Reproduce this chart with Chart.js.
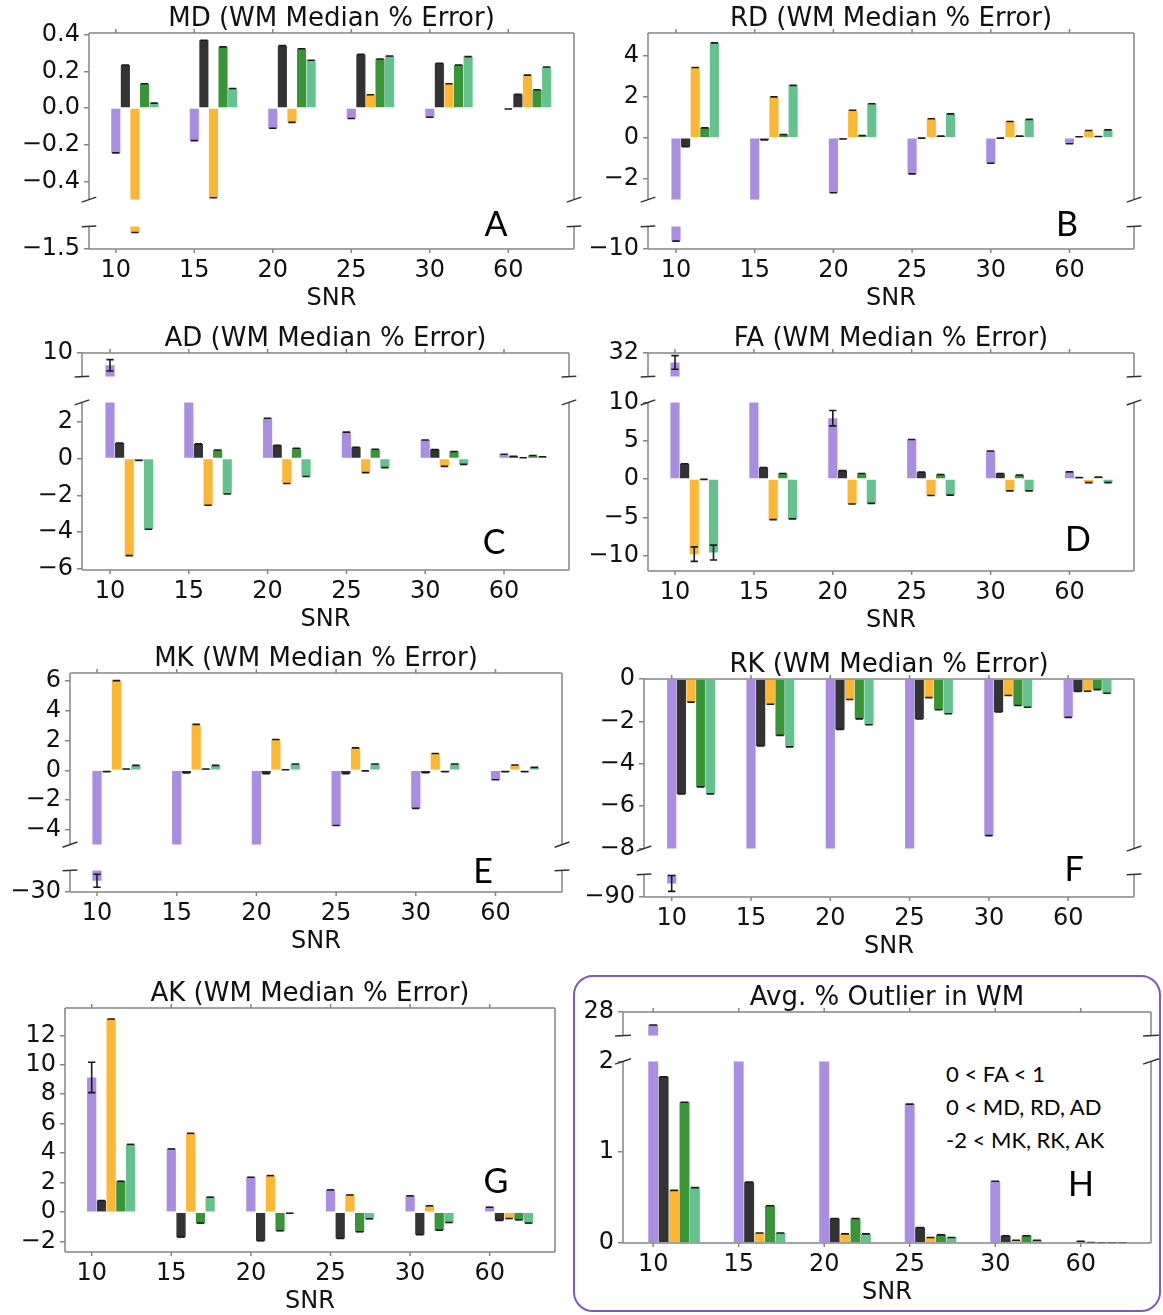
<!DOCTYPE html>
<html lang="en">
<head>
<meta charset="UTF-8">
<meta name="viewport" content="width=device-width, initial-scale=1.0">
<title>WM Median % Error by SNR</title>
<script src="https://cdn.jsdelivr.net/npm/chart.js"></script>
<style>
    body { margin: 0; background: #fff; }
    #page { position: relative; width: 1163px; height: 1315px; overflow: hidden; }
    #page canvas { position: absolute; }
    .letter {
        position: absolute;
        font-family: Lato, 'Open Sans', sans-serif;
        font-size: 34px;
        line-height: 1;
        color: #000;
        transform: translate(-50%, -50%);
    }
    /* rounded purple frame around panel H */
    #outlierBox {
        position: absolute;
        left: 573px; top: 975px;
        width: 584px; height: 333px;
        border: 2px solid #7d5bbf;
        border-radius: 20px;
    }
    #outlierNote {
        position: absolute;
        left: 946px; top: 1057px;
        font-family: Lato, 'Open Sans', sans-serif;
        font-size: 22px;
        line-height: 33px;
        color: #000;
    }
</style>
</head>
<body>
<div id="page">
    <div id="outlierBox"></div>
    <div id="outlierNote">0 &lt; FA &lt; 1<br>0 &lt; MD, RD, AD<br>-2 &lt; MK, RK, AK</div>
</div>
<script>
    // ---------- data ----------
    const snr = ['10', '15', '20', '25', '30', '60'];
    const seriesNames = ['Series 1', 'Series 2', 'Series 3', 'Series 4', 'Series 5'];
    const seriesColors = ['rgba(147,112,219,0.8)', 'rgba(0,0,0,0.8)', 'rgba(255,165,0,0.8)', 'rgba(34,139,34,0.9)', 'rgba(60,179,113,0.8)'];

    // one row per series (purple, black, orange, green, light green), one column per SNR
    const mdValues = [
        [-0.245, -0.178, -0.11, -0.057, -0.05, -0.005],
        [0.235, 0.37, 0.341, 0.293, 0.245, 0.075],
        [-1.28, -0.49, -0.078, 0.073, 0.133, 0.18],
        [0.133, 0.334, 0.324, 0.268, 0.235, 0.1],
        [0.027, 0.107, 0.261, 0.284, 0.281, 0.224]
    ];
    const mdTicks = [[-0.4, -0.2, 0, 0.2, 0.4], [-1.5]];

    const rdValues = [
        [-8.6, -3.3, -2.67, -1.75, -1.24, -0.29],
        [-0.44, -0.11, -0.06, -0.02, -0.02, 0.05],
        [3.41, 1.98, 1.33, 0.92, 0.79, 0.35],
        [0.48, 0.16, 0.11, 0.08, 0.08, 0.06],
        [4.6, 2.54, 1.65, 1.16, 0.89, 0.38]
    ];
    const rdTicks = [[-2, 0, 2, 4], [-10]];

    const adValues = [
        [7.4, 4.0, 2.18, 1.43, 1.0, 0.23],
        [0.84, 0.79, 0.71, 0.61, 0.48, 0.12],
        [-5.27, -2.54, -1.36, -0.77, -0.43, 0.04],
        [-0.11, 0.46, 0.55, 0.5, 0.38, 0.16],
        [-3.84, -1.93, -0.98, -0.5, -0.32, 0.09]
    ];
    const adErrors = [
        [1.2, 0, 0, 0, 0, 0],
        [0, 0, 0, 0, 0, 0],
        [0, 0, 0, 0, 0, 0],
        [0, 0, 0, 0, 0, 0],
        [0, 0, 0, 0, 0, 0]
    ];
    const adTicks = [[10], [-6, -4, -2, 0, 2]];

    const faValues = [
        [30.4, 14, 7.94, 5.15, 3.65, 0.94],
        [2.0, 1.5, 1.1, 0.9, 0.73, 0.21],
        [-9.8, -5.3, -3.26, -2.15, -1.55, -0.47],
        [-0.05, 0.73, 0.73, 0.6, 0.52, 0.26],
        [-9.6, -5.2, -3.18, -2.1, -1.55, -0.47]
    ];
    const faErrors = [
        [1.15, 0, 1.0, 0, 0, 0],
        [0, 0, 0, 0, 0, 0],
        [0.95, 0, 0, 0, 0, 0],
        [0, 0, 0, 0, 0, 0],
        [0.97, 0, 0, 0, 0, 0]
    ];
    const faTicks = [[32], [-10, -5, 0, 5, 10]];

    const mkValues = [
        [-27.4, -8, -6, -3.71, -2.56, -0.64],
        [-0.09, -0.18, -0.22, -0.22, -0.16, -0.09],
        [6.04, 3.09, 2.07, 1.51, 1.13, 0.36],
        [0.09, 0.09, 0.04, -0.04, -0.09, -0.09],
        [0.33, 0.33, 0.42, 0.42, 0.42, 0.2]
    ];
    const mkErrors = [
        [1.5, 0, 0, 0, 0, 0],
        [0, 0, 0, 0, 0, 0],
        [0, 0, 0, 0, 0, 0],
        [0, 0, 0, 0, 0, 0],
        [0, 0, 0, 0, 0, 0]
    ];
    const mkTicks = [[-4, -2, 0, 2, 4, 6], [-30]];

    const rkValues = [
        [-86.4, -10, -9, -8.5, -7.39, -1.81],
        [-5.42, -3.16, -2.38, -1.89, -1.56, -0.59],
        [-1.09, -1.19, -0.97, -0.88, -0.78, -0.58],
        [-5.09, -2.66, -1.88, -1.45, -1.25, -0.5],
        [-5.42, -3.2, -2.16, -1.64, -1.33, -0.67]
    ];
    const rkErrors = [
        [2.1, 0, 0, 0, 0, 0],
        [0, 0, 0, 0, 0, 0],
        [0, 0, 0, 0, 0, 0],
        [0, 0, 0, 0, 0, 0],
        [0, 0, 0, 0, 0, 0]
    ];
    const rkTicks = [[-8, -6, -4, -2, 0], [-90]];

    const akValues = [
        [9.14, 4.29, 2.37, 1.51, 1.11, 0.34],
        [0.79, -1.69, -1.94, -1.78, -1.53, -0.56],
        [13.1, 5.35, 2.48, 1.17, 0.43, -0.43],
        [2.1, -0.74, -1.26, -1.33, -1.22, -0.52],
        [4.6, 1.02, -0.07, -0.45, -0.7, -0.74]
    ];
    const akErrors = [
        [1.03, 0, 0, 0, 0, 0],
        [0, 0, 0, 0, 0, 0],
        [0, 0, 0, 0, 0, 0],
        [0, 0, 0, 0, 0, 0],
        [0, 0, 0, 0, 0, 0]
    ];
    const akTicks = [[-2, 0, 2, 4, 6, 8, 10, 12]];

    const outlierValues = [
        [26.9, 5, 4, 1.53, 0.68, 0.02],
        [1.83, 0.67, 0.27, 0.17, 0.08, 0.005],
        [0.58, 0.11, 0.1, 0.06, 0.03, 0.003],
        [1.55, 0.41, 0.27, 0.09, 0.08, 0.003],
        [0.61, 0.11, 0.1, 0.06, 0.03, 0.003]
    ];
    const outlierTicks = [[28], [0, 1, 2]];

    // ---------- layout (pixel frames of each panel, axis limits of each segment) ----------
    const panels = [
        { title: 'MD (WM Median % Error)', letter: 'A', letterPos: [496, 223], values: mdValues, errors: null, ticks: mdTicks, decimals: 1,
          left: 89, right: 574, tick0: 115.8, step: 78.5,
          segs: [{ top: 33, bottom: 202, min: -0.5, max: 0.41 }, { top: 224, bottom: 249, min: -1.5, max: -1.2 }] },
        { title: 'RD (WM Median % Error)', letter: 'B', letterPos: [1067, 223], values: rdValues, errors: null, ticks: rdTicks, decimals: 0,
          left: 648, right: 1134, tick0: 676, step: 78.7,
          segs: [{ top: 33, bottom: 202, min: -3, max: 5.08 }, { top: 224, bottom: 249, min: -10, max: -6 }] },
        { title: 'AD (WM Median % Error)', letter: 'C', letterPos: [494, 541], values: adValues, errors: adErrors, ticks: adTicks, decimals: 0,
          left: 82, right: 569, tick0: 110, step: 78.8,
          segs: [{ top: 353, bottom: 379, min: 5, max: 10 }, { top: 400, bottom: 570, min: -6.05, max: 3.04 }] },
        { title: 'FA (WM Median % Error)', letter: 'D', letterPos: [1078, 538], values: faValues, errors: faErrors, ticks: faTicks, decimals: 0,
          left: 648, right: 1134, tick0: 675, step: 78.9,
          segs: [{ top: 353, bottom: 379, min: 28, max: 32 }, { top: 400, bottom: 571, min: -12, max: 10 }] },
        { title: 'MK (WM Median % Error)', letter: 'E', letterPos: [483, 870], values: mkValues, errors: mkErrors, ticks: mkTicks, decimals: 0,
          left: 70, right: 562, tick0: 97, step: 79.7,
          segs: [{ top: 673, bottom: 847, min: -5, max: 6.55 }, { top: 868, bottom: 892, min: -30, max: -25 }] },
        { title: 'RK (WM Median % Error)', letter: 'F', letterPos: [1074, 868], values: rkValues, errors: rkErrors, ticks: rkTicks, decimals: 0,
          left: 644, right: 1134, tick0: 671.7, step: 79.3,
          segs: [{ top: 679, bottom: 851, min: -8, max: 0 }, { top: 872, bottom: 897, min: -90, max: -84 }] },
        { title: 'AK (WM Median % Error)', letter: 'G', letterPos: [496, 1180], values: akValues, errors: akErrors, ticks: akTicks, decimals: 0,
          left: 65, right: 555, tick0: 91.7, step: 79.6,
          segs: [{ top: 1008, bottom: 1252, min: -2.7, max: 13.85 }] },
        { title: 'Avg. % Outlier in WM', letter: 'H', letterPos: [1081, 1183], values: outlierValues, errors: null, ticks: outlierTicks, decimals: 0,
          left: 623, right: 1151, tick0: 653.2, step: 85.5,
          segs: [{ top: 1012, bottom: 1038, min: 26, max: 28 }, { top: 1059, bottom: 1243, min: 0, max: 2 }] }
    ];

    const FONT = "'DejaVu Sans', sans-serif";
    const TICK_SIZE = 24;
    const TITLE_SIZE = 26;
    const TITLE_GAP = 1;
    const Y_AXIS_W = 86;
    const X_AXIS_H = 66;
    const PAD_V = 16;
    const PAD_R = 14;
    const CAT_PCT = 0.61;
    const BAR_PCT = 0.95;
    const BAR_SHIFT = 2 * CAT_PCT / 5;   // puts the first bar of each group on the tick
    const FRAME_COLOR = '#858585';

    // spines, outer x tick marks and the diagonal break marks
    const framePlugin = {
        id: 'frame',
        afterDraw(chart, args, opts) {
            const { ctx, chartArea: a } = chart;
            const xs = chart.scales.x;
            ctx.save();
            ctx.strokeStyle = FRAME_COLOR;
            ctx.lineWidth = 1.5;
            ctx.beginPath();
            ctx.moveTo(a.left, a.top); ctx.lineTo(a.left, a.bottom);
            ctx.moveTo(a.right, a.top); ctx.lineTo(a.right, a.bottom);
            if (opts.first) { ctx.moveTo(a.left, a.top); ctx.lineTo(a.right, a.top); }
            if (opts.last) { ctx.moveTo(a.left, a.bottom); ctx.lineTo(a.right, a.bottom); }
            snr.forEach((_, i) => {
                const px = xs.getPixelForValue(i);
                if (opts.first) { ctx.moveTo(px, a.top); ctx.lineTo(px, a.top - 4); }
                if (opts.last) { ctx.moveTo(px, a.bottom); ctx.lineTo(px, a.bottom + 4); }
            });
            ctx.stroke();

            const dx = 0.015 * a.width, dy = 0.015 * a.height;
            ctx.strokeStyle = '#333';
            ctx.beginPath();
            const edges = [];
            if (!opts.first) edges.push(a.top);
            if (!opts.last) edges.push(a.bottom);
            edges.forEach(y => {
                [a.left, a.right].forEach(x => {
                    ctx.moveTo(x - dx, y + dy);
                    ctx.lineTo(x + dx, y - dy);
                });
            });
            ctx.stroke();
            ctx.restore();
        }
    };

    // error bars with caps at the end of every bar
    const capsPlugin = {
        id: 'caps',
        afterDatasetsDraw(chart) {
            const { ctx, chartArea: a } = chart;
            const ys = chart.scales.y;
            ctx.save();
            ctx.beginPath();
            ctx.rect(a.left, a.top, a.width, a.height);
            ctx.clip();
            ctx.strokeStyle = '#1a1a1a';
            ctx.lineWidth = 1.6;
            chart.data.datasets.forEach((ds, d) => {
                const meta = chart.getDatasetMeta(d);
                meta.data.forEach((bar, i) => {
                    const v = ds.data[i].y;
                    const e = ds.errors ? ds.errors[i] : 0;
                    const half = bar.width * 0.4;
                    const lo = ys.getPixelForValue(v - e);
                    const hi = ys.getPixelForValue(v + e);
                    ctx.beginPath();
                    ctx.moveTo(bar.x - half, lo); ctx.lineTo(bar.x + half, lo);
                    if (e > 0) {
                        ctx.moveTo(bar.x - half, hi); ctx.lineTo(bar.x + half, hi);
                        ctx.moveTo(bar.x, lo); ctx.lineTo(bar.x, hi);
                    }
                    ctx.stroke();
                });
            });
            ctx.restore();
        }
    };

    function formatTick(value, decimals) {
        const s = Math.abs(value).toFixed(decimals);
        return value < 0 ? '\u2212' + s : s;
    }

    function makeSegment(page, p, seg, k) {
        const first = k === 0;
        const last = k === p.segs.length - 1;
        const titleH = first ? TITLE_SIZE + TITLE_GAP : 0;
        const padTop = first ? 0 : PAD_V;
        const padBottom = last ? 0 : PAD_V;
        const xh = last ? X_AXIS_H : 0;

        const canvas = document.createElement('canvas');
        const left = Math.round(p.left - Y_AXIS_W);
        const top = Math.round(seg.top - padTop - titleH);
        const width = Y_AXIS_W + Math.round(p.right - p.left) + PAD_R;
        const height = Math.round(seg.bottom - seg.top) + padTop + titleH + padBottom + xh;
        canvas.width = width;
        canvas.height = height;
        canvas.style.left = left + 'px';
        canvas.style.top = top + 'px';
        canvas.style.width = width + 'px';
        canvas.style.height = height + 'px';
        page.appendChild(canvas);

        const segTicks = p.ticks[k];

        new Chart(canvas, {
            type: 'bar',
            data: {
                datasets: p.values.map((vals, s) => ({
                    label: seriesNames[s],
                    data: vals.map((v, i) => ({ x: i + BAR_SHIFT, y: v })),
                    errors: p.errors ? p.errors[s] : null,
                    backgroundColor: seriesColors[s],
                    borderWidth: 0,
                    barPercentage: BAR_PCT,
                    categoryPercentage: CAT_PCT,
                    clip: 0
                }))
            },
            options: {
                responsive: false,
                animation: false,
                devicePixelRatio: 1,
                layout: { padding: { top: padTop, bottom: padBottom, left: 0, right: PAD_R } },
                plugins: {
                    legend: { display: false },
                    tooltip: { enabled: false },
                    title: {
                        display: first,
                        text: p.title,
                        fullSize: false,
                        color: '#111',
                        font: { family: FONT, size: TITLE_SIZE, weight: 'normal', lineHeight: 1 },
                        padding: { top: 0, bottom: TITLE_GAP }
                    },
                    frame: { first: first, last: last }
                },
                scales: {
                    x: {
                        type: 'linear',
                        offset: false,
                        display: last,
                        min: (p.left - p.tick0) / p.step,
                        max: (p.right - p.tick0) / p.step,
                        afterBuildTicks: sc => { sc.ticks = snr.map((_, i) => ({ value: i })); },
                        afterFit: sc => { sc.height = last ? X_AXIS_H : 0; },
                        ticks: {
                            autoSkip: false,
                            maxRotation: 0,
                            padding: 7,
                            color: '#111',
                            font: { family: FONT, size: TICK_SIZE },
                            callback: v => snr[v]
                        },
                        grid: { display: false, drawTicks: false },
                        border: { display: false },
                        title: {
                            display: true,
                            text: 'SNR',
                            color: '#111',
                            font: { family: FONT, size: TICK_SIZE },
                            padding: { top: 0, bottom: 2 }
                        }
                    },
                    y: {
                        min: seg.min,
                        max: seg.max,
                        afterBuildTicks: sc => { sc.ticks = segTicks.map(v => ({ value: v })); },
                        afterFit: sc => { sc.width = Y_AXIS_W; },
                        ticks: {
                            padding: 4,
                            color: '#111',
                            font: { family: FONT, size: TICK_SIZE },
                            callback: v => formatTick(v, p.decimals)
                        },
                        grid: { drawOnChartArea: false, drawTicks: true, tickLength: 5, color: FRAME_COLOR, lineWidth: 1.5 },
                        border: { display: false }
                    }
                }
            },
            plugins: [framePlugin, capsPlugin]
        });
    }

    function buildPage() {
        const page = document.getElementById('page');
        panels.forEach(p => {
            p.segs.forEach((seg, k) => makeSegment(page, p, seg, k));
            const tag = document.createElement('div');
            tag.className = 'letter';
            tag.textContent = p.letter;
            tag.style.left = p.letterPos[0] + 'px';
            tag.style.top = p.letterPos[1] + 'px';
            page.appendChild(tag);
        });
    }

    document.addEventListener('DOMContentLoaded', buildPage);
</script>
</body>
</html>
